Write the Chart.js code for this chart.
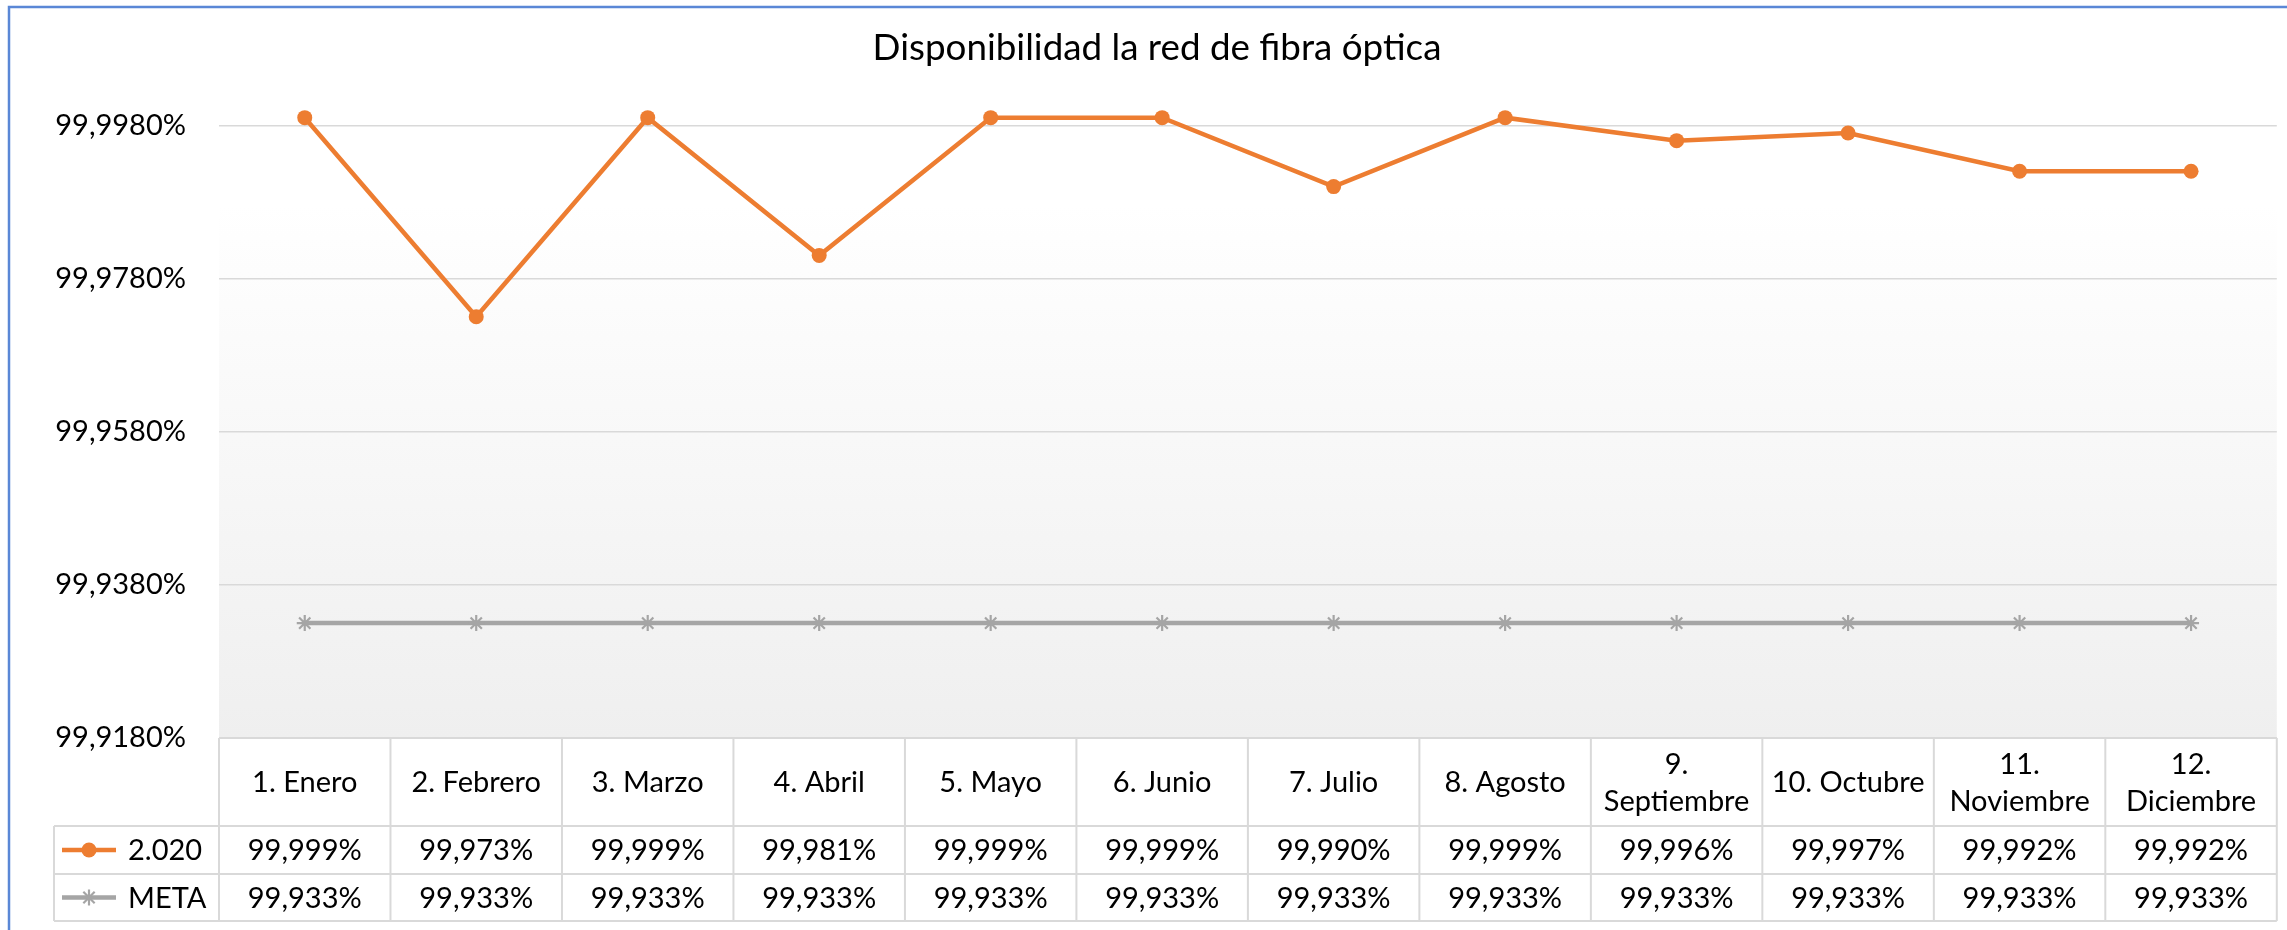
<!DOCTYPE html>
<html><head><meta charset="utf-8">
<script src="https://cdn.jsdelivr.net/npm/chart.js@4.4.1/dist/chart.umd.min.js"></script>
<style>html,body{margin:0;padding:0;background:#fff;} canvas{display:block;}</style>
</head><body>
<canvas id="c" width="2287" height="930"></canvas>
<script>
// ---- data ----
const chartTitle = 'Disponibilidad la red de fibra óptica';
const categories = ['1. Enero','2. Febrero','3. Marzo','4. Abril','5. Mayo','6. Junio','7. Julio','8. Agosto',['9.','Septiembre'],'10. Octubre',['11.','Noviembre'],['12.','Diciembre']];
const seriesNames = ['2.020','META'];
const values2020 = [99.999,99.973,99.999,99.981,99.999,99.999,99.990,99.999,99.996,99.997,99.992,99.992];
const valuesMeta = [99.933,99.933,99.933,99.933,99.933,99.933,99.933,99.933,99.933,99.933,99.933,99.933];
const yTickValues = [99.918,99.938,99.958,99.978,99.998];
const yTickLabels = ['99,9180%','99,9380%','99,9580%','99,9780%','99,9980%'];
const yMin = 99.918, yMax = 100;

// ---- styles ----
const FONT = 'Lato, "Open Sans", sans-serif';
const COLORS = ['#ed7d31', '#a5a5a5'];
const TXT = '#000000';
const LINE = '#d9d9d9';

function fmt(v){ return v.toFixed(3).replace('.', ',') + '%'; }

function drawStar(ctx, x, y, r, color, w){
  ctx.save();
  ctx.strokeStyle = color; ctx.lineWidth = w;
  ctx.beginPath();
  ctx.moveTo(x, y - r); ctx.lineTo(x, y + r);
  const d = r * Math.SQRT1_2;
  ctx.moveTo(x - d, y - d); ctx.lineTo(x + d, y + d);
  ctx.moveTo(x - d, y + d); ctx.lineTo(x + d, y - d);
  ctx.stroke();
  ctx.restore();
}

const decor = {
  id: 'decor',
  beforeDraw(chart){
    const {ctx, chartArea: a} = chart;
    ctx.save();
    ctx.fillStyle = '#ffffff';
    ctx.fillRect(0, 0, chart.width, chart.height);
    const g = ctx.createLinearGradient(0, a.top, 0, a.bottom);
    g.addColorStop(0, '#ffffff');
    g.addColorStop(0.15, '#ffffff');
    g.addColorStop(1, '#efefef');
    ctx.fillStyle = g;
    ctx.fillRect(a.left, a.top, a.right - a.left, a.bottom - a.top);
    ctx.restore();
  },
  afterDraw(chart){
    const {ctx, chartArea: a} = chart;
    const xs = chart.scales.x;
    const n = categories.length;
    const colW = (a.right - a.left) / n;
    const top = a.bottom, hdrB = top + 88, r1B = hdrB + 48, r2B = r1B + 47;
    const legL = 54;
    ctx.save();
    // title
    let base = 40;
    ctx.font = base + 'px ' + FONT;
    const tw = ctx.measureText(chartTitle).width;
    const ts = base * 569 / tw;
    ctx.font = ts.toFixed(2) + 'px ' + FONT;
    ctx.fillStyle = TXT;
    ctx.textAlign = 'center';
    ctx.textBaseline = 'alphabetic';
    ctx.fillText(chartTitle, 1157, 60);

    // table background
    ctx.fillStyle = '#ffffff';
    ctx.fillRect(a.left, top + 1, a.right - a.left, r2B - top);
    ctx.fillRect(legL, hdrB, a.left - legL, r2B - hdrB);

    // table lines
    ctx.strokeStyle = LINE; ctx.lineWidth = 2;
    ctx.beginPath();
    ctx.moveTo(a.left, top); ctx.lineTo(a.right, top);
    ctx.moveTo(legL, hdrB); ctx.lineTo(a.right, hdrB);
    ctx.moveTo(legL, r1B); ctx.lineTo(a.right, r1B);
    ctx.moveTo(legL, r2B); ctx.lineTo(a.right, r2B);
    for (let i = 0; i < n; i++) {
      const x = xs.getPixelForValue(i) - colW / 2;
      ctx.moveTo(x, top); ctx.lineTo(x, r2B);
    }
    ctx.moveTo(xs.getPixelForValue(n - 1) + colW / 2, top); ctx.lineTo(xs.getPixelForValue(n - 1) + colW / 2, r2B);
    ctx.moveTo(legL, hdrB); ctx.lineTo(legL, r2B);
    ctx.stroke();

    // header text
    ctx.font = '29px ' + FONT;
    ctx.fillStyle = TXT;
    ctx.textAlign = 'center';
    ctx.textBaseline = 'middle';
    const hc = (top + hdrB) / 2;
    categories.forEach((c, i) => {
      const x = xs.getPixelForValue(i);
      const lines = Array.isArray(c) ? c : [c];
      const lh = 37;
      lines.forEach((t, k) => {
        ctx.fillText(t, x, hc + (k - (lines.length - 1) / 2) * lh + 1);
      });
    });
    // data rows
    const rows = [values2020, valuesMeta];
    const rc = [(hdrB + r1B) / 2, (r1B + r2B) / 2];
    rows.forEach((vals, r) => {
      vals.forEach((v, i) => {
        ctx.fillText(fmt(v), xs.getPixelForValue(i), rc[r] + 1);
      });
    });
    // legend keys
    rows.forEach((vals, r) => {
      const y = rc[r];
      ctx.strokeStyle = COLORS[r]; ctx.lineWidth = 4.5;
      ctx.beginPath(); ctx.moveTo(62, y); ctx.lineTo(116, y); ctx.stroke();
      if (r === 0) {
        ctx.fillStyle = COLORS[0];
        ctx.beginPath(); ctx.arc(89, y, 7.5, 0, Math.PI * 2); ctx.fill();
      } else {
        drawStar(ctx, 89, y, 8, COLORS[1], 2.2);
      }
      ctx.fillStyle = TXT;
      ctx.textAlign = 'left';
      ctx.fillText(seriesNames[r], 128, y + 1);
    });

    // outer frame
    ctx.strokeStyle = '#5a87d6'; ctx.lineWidth = 2.5;
    ctx.beginPath();
    ctx.moveTo(9, chart.height); ctx.lineTo(9, 7); ctx.lineTo(chart.width, 7);
    ctx.stroke();
    ctx.restore();
  }
};

new Chart(document.getElementById('c'), {
  type: 'line',
  data: {
    labels: categories,
    datasets: [
      { label: seriesNames[0], data: values2020, borderColor: COLORS[0], backgroundColor: COLORS[0],
        borderWidth: 4.5, pointRadius: 7.5, pointHoverRadius: 7.5, pointBorderWidth: 0, tension: 0, order: 1 },
      { label: seriesNames[1], data: valuesMeta, borderColor: COLORS[1], backgroundColor: COLORS[1],
        borderWidth: 4.5, pointStyle: 'star', pointRadius: 8, pointHoverRadius: 8, pointBorderWidth: 2.2,
        pointBorderColor: COLORS[1], tension: 0, order: 2 }
    ]
  },
  options: {
    responsive: false,
    devicePixelRatio: 1,
    animation: false,
    events: [],
    layout: { padding: { top: 110, bottom: 192, right: 10, left: 0 } },
    plugins: { legend: { display: false }, title: { display: false }, tooltip: { enabled: false } },
    scales: {
      x: { type: 'category', offset: true, display: false },
      y: {
        min: yMin, max: yMax,
        afterBuildTicks(s){ s.ticks = yTickValues.map(v => ({ value: v })); },
        afterFit(s){ s.width = 219; },
        grid: { color: LINE, lineWidth: 1.5, drawTicks: false },
        border: { display: false },
        ticks: { padding: 33, color: TXT, font: { family: FONT, size: 29 },
                 callback: (v, i) => yTickLabels[i] }
      }
    }
  },
  plugins: [decor]
});
</script>
</body></html>
